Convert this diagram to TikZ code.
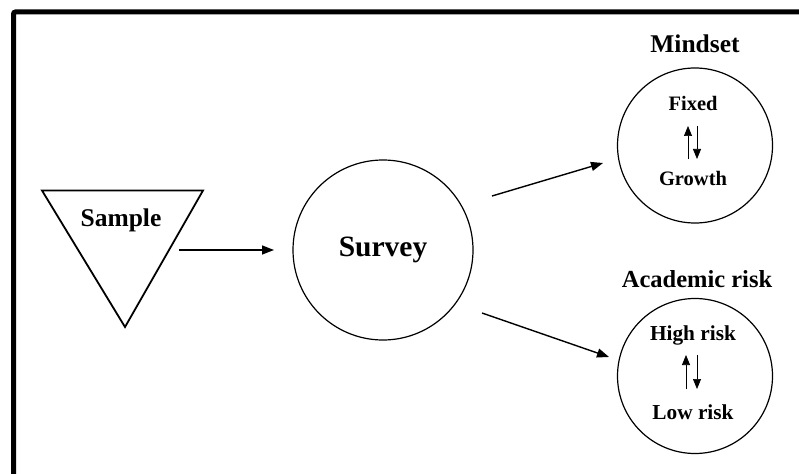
\documentclass[tikz,border=0pt]{standalone}
\usepackage{fontspec}
\setmainfont{Liberation Serif}
\usetikzlibrary{arrows.meta}

\tikzset{
  conn/.style={line width=1.4pt, -{Triangle[length=12pt,width=9pt]}},
  flip/.style={line width=0.7pt, -{Triangle[length=10pt,width=8pt]}},
  ring/.style={draw, circle, line width=1.2pt, inner sep=0pt},
  lbl/.style={font=\bfseries\fontsize{25.5}{28}\selectfont, inner sep=0pt},
  inner/.style={font=\bfseries\fontsize{20.5}{24}\selectfont, inner sep=0pt},
}

\begin{document}
\begin{tikzpicture}[x=1pt, y=-1pt]
\useasboundingbox (0,0) rectangle (799,473);

% frame
\draw[line width=5pt, rounded corners=2pt] (13.5,480) -- (13.5,12) -- (805,12);

% sample triangle
\draw[line width=1.8pt, line join=miter]
  (42,190.5) -- (203,190.5) -- (125,327) -- cycle;
\node[lbl] (sample) at (121,220) {Sample};

% survey
\node[ring, minimum size=180pt] (survey) at (383,250) {};
\node[font=\bfseries\fontsize{29.5}{32}\selectfont, inner sep=0pt] (surveytxt) at (383,250) {Survey};

% mindset
\node[ring, minimum size=155pt] (mind) at (695,145.5) {};
\node[lbl] (mindlbl) at (695,44) {Mindset};
\node[inner] (fixed) at (693,103) {Fixed};
\node[inner] (growth) at (693,178) {Growth};
\coordinate (mu1) at (688,159);
\coordinate (mu2) at (688,126);
\coordinate (md1) at (697,126);
\coordinate (md2) at (697,159);
\draw[flip] (mu1) -- (mu2);
\draw[flip] (md1) -- (md2);

% academic risk
\node[ring, minimum size=155pt] (risk) at (695,376) {};
\node[lbl, font=\bfseries\fontsize{24.5}{28}\selectfont] (risklbl) at (697,279) {Academic risk};
\node[inner, font=\bfseries\fontsize{21.3}{24}\selectfont] (high) at (693,335) {High risk};
\node[inner, font=\bfseries\fontsize{21.3}{24}\selectfont] (low) at (693,412) {Low risk};
\coordinate (ru1) at (686,389);
\coordinate (ru2) at (686,355);
\coordinate (rd1) at (697,355);
\coordinate (rd2) at (697,389);
\draw[flip] (ru1) -- (ru2);
\draw[flip] (rd1) -- (rd2);

% connectors
\coordinate (sout) at (179,250);
\coordinate (sin) at (274,250);
\draw[conn] (sout) -- (sin);
\coordinate (up1) at (492,196);
\coordinate (up2) at (603,163);
\draw[conn] (up1) -- (up2);
\coordinate (dn1) at (482,313);
\coordinate (dn2) at (609,357);
\draw[conn] (dn1) -- (dn2);
\end{tikzpicture}
\end{document}
